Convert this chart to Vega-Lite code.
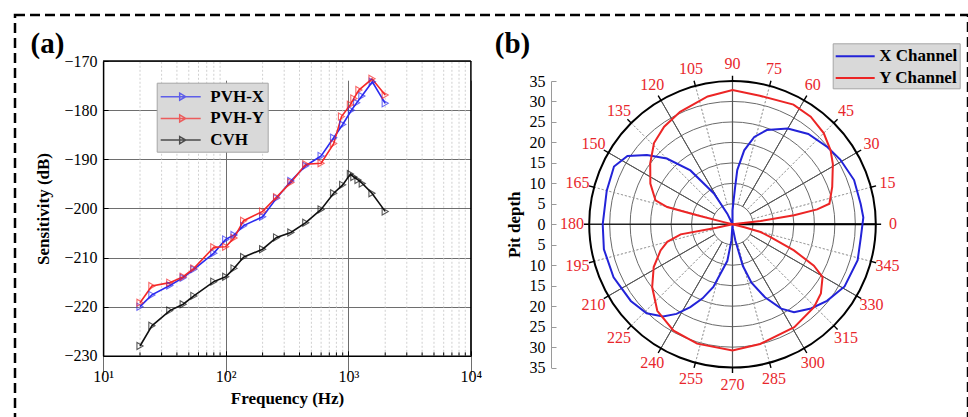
{
  "$schema": "https://vega.github.io/schema/vega-lite/v6.json",
  "width": 953,
  "height": 406,
  "autosize": {"type": "none"},
  "padding": {"left": 15, "top": 15, "right": 0, "bottom": -4},
  "background": "white",
  "config": {
    "view": {"stroke": "black", "strokeWidth": 2.5, "strokeDash": [10, 5]},
    "font": "Liberation Serif",
    "axis": {"labelFont": "Liberation Serif", "titleFont": "Liberation Serif", "labelColor": "black", "titleColor": "black", "titleFontWeight": "bold", "labelOverlap": false},
    "text": {"font": "Liberation Serif"}
  },
  "datasets": {
    "minorF": [
      {"f": 20}, {"f": 30}, {"f": 40}, {"f": 50}, {"f": 60}, {"f": 70}, {"f": 80}, {"f": 90},
      {"f": 200}, {"f": 300}, {"f": 400}, {"f": 500}, {"f": 600}, {"f": 700}, {"f": 800}, {"f": 900},
      {"f": 2000}, {"f": 3000}, {"f": 4000}, {"f": 5000}, {"f": 6000}, {"f": 7000}, {"f": 8000}, {"f": 9000}
    ],
    "sens": [
      {"series": "PVH-X", "f": 20, "s": -220.0}, {"series": "PVH-X", "f": 25, "s": -217.6}, {"series": "PVH-X", "f": 35, "s": -215.7},
      {"series": "PVH-X", "f": 45, "s": -214.1}, {"series": "PVH-X", "f": 55, "s": -212.4}, {"series": "PVH-X", "f": 80, "s": -209.1},
      {"series": "PVH-X", "f": 100, "s": -206.3}, {"series": "PVH-X", "f": 117, "s": -205.4}, {"series": "PVH-X", "f": 140, "s": -203.5},
      {"series": "PVH-X", "f": 200, "s": -201.7}, {"series": "PVH-X", "f": 260, "s": -197.9}, {"series": "PVH-X", "f": 340, "s": -194.4},
      {"series": "PVH-X", "f": 450, "s": -191.3}, {"series": "PVH-X", "f": 600, "s": -189.3}, {"series": "PVH-X", "f": 760, "s": -185.6},
      {"series": "PVH-X", "f": 900, "s": -182.9}, {"series": "PVH-X", "f": 1060, "s": -180.0}, {"series": "PVH-X", "f": 1170, "s": -178.5},
      {"series": "PVH-X", "f": 1290, "s": -177.1}, {"series": "PVH-X", "f": 1570, "s": -174.2}, {"series": "PVH-X", "f": 2000, "s": -178.6},
      {"series": "PVH-Y", "f": 20, "s": -219.2}, {"series": "PVH-Y", "f": 25, "s": -215.8}, {"series": "PVH-Y", "f": 35, "s": -215.1},
      {"series": "PVH-Y", "f": 45, "s": -213.9}, {"series": "PVH-Y", "f": 55, "s": -212.2}, {"series": "PVH-Y", "f": 80, "s": -207.9},
      {"series": "PVH-Y", "f": 100, "s": -207.8}, {"series": "PVH-Y", "f": 117, "s": -206.0}, {"series": "PVH-Y", "f": 140, "s": -202.5},
      {"series": "PVH-Y", "f": 200, "s": -200.6}, {"series": "PVH-Y", "f": 260, "s": -197.7}, {"series": "PVH-Y", "f": 340, "s": -194.7},
      {"series": "PVH-Y", "f": 450, "s": -191.0}, {"series": "PVH-Y", "f": 600, "s": -190.8}, {"series": "PVH-Y", "f": 760, "s": -186.8},
      {"series": "PVH-Y", "f": 880, "s": -181.3}, {"series": "PVH-Y", "f": 1040, "s": -178.9}, {"series": "PVH-Y", "f": 1110, "s": -177.6},
      {"series": "PVH-Y", "f": 1220, "s": -175.9}, {"series": "PVH-Y", "f": 1560, "s": -173.6}, {"series": "PVH-Y", "f": 2000, "s": -176.9},
      {"series": "CVH", "f": 20, "s": -228.0}, {"series": "CVH", "f": 25, "s": -223.9}, {"series": "CVH", "f": 35, "s": -220.8},
      {"series": "CVH", "f": 45, "s": -219.5}, {"series": "CVH", "f": 55, "s": -217.8}, {"series": "CVH", "f": 80, "s": -214.9},
      {"series": "CVH", "f": 100, "s": -213.9}, {"series": "CVH", "f": 117, "s": -212.2}, {"series": "CVH", "f": 140, "s": -209.9},
      {"series": "CVH", "f": 200, "s": -208.3}, {"series": "CVH", "f": 260, "s": -205.9}, {"series": "CVH", "f": 340, "s": -204.9},
      {"series": "CVH", "f": 450, "s": -202.9}, {"series": "CVH", "f": 600, "s": -200.2}, {"series": "CVH", "f": 760, "s": -196.9},
      {"series": "CVH", "f": 900, "s": -195.2}, {"series": "CVH", "f": 1040, "s": -193.0}, {"series": "CVH", "f": 1110, "s": -193.6},
      {"series": "CVH", "f": 1200, "s": -194.2}, {"series": "CVH", "f": 1300, "s": -194.9}, {"series": "CVH", "f": 1560, "s": -196.9},
      {"series": "CVH", "f": 2000, "s": -200.6}
    ],
    "rings": [{"r": 5}, {"r": 10}, {"r": 15}, {"r": 20}, {"r": 25}, {"r": 30}],
    "spokeMinor": [{"a": 15}, {"a": 45}, {"a": 75}, {"a": 105}, {"a": 135}, {"a": 165}, {"a": 195}, {"a": 225}, {"a": 255}, {"a": 285}, {"a": 315}, {"a": 345}],
    "spokeMajor": [{"a": 30}, {"a": 60}, {"a": 120}, {"a": 150}, {"a": 210}, {"a": 240}, {"a": 300}, {"a": 330}],
    "hAxis": [{"a": 0}, {"a": 180}],
    "vAxis": [{"a": 90}, {"a": 270}],
    "angles": [
      {"a": 0}, {"a": 15}, {"a": 30}, {"a": 45}, {"a": 60}, {"a": 75}, {"a": 90}, {"a": 105}, {"a": 120}, {"a": 135}, {"a": 150}, {"a": 165},
      {"a": 180}, {"a": 195}, {"a": 210}, {"a": 225}, {"a": 240}, {"a": 255}, {"a": 270}, {"a": 285}, {"a": 300}, {"a": 315}, {"a": 330}, {"a": 345}
    ],
    "pits": [
      {"ch": "X Channel", "i": 1, "ang": 90, "d": 0}, {"ch": "X Channel", "i": 2, "ang": 90, "d": 3.4}, {"ch": "X Channel", "i": 3, "ang": 86, "d": 9},
      {"ch": "X Channel", "i": 4, "ang": 85, "d": 13.3}, {"ch": "X Channel", "i": 5, "ang": 81, "d": 18.3}, {"ch": "X Channel", "i": 6, "ang": 76, "d": 22},
      {"ch": "X Channel", "i": 7, "ang": 70, "d": 24.5}, {"ch": "X Channel", "i": 8, "ang": 60, "d": 27}, {"ch": "X Channel", "i": 9, "ang": 50, "d": 28.8},
      {"ch": "X Channel", "i": 10, "ang": 39, "d": 29.9}, {"ch": "X Channel", "i": 11, "ang": 31, "d": 30.7}, {"ch": "X Channel", "i": 12, "ang": 20, "d": 31.6},
      {"ch": "X Channel", "i": 13, "ang": 9, "d": 31.7}, {"ch": "X Channel", "i": 14, "ang": 3, "d": 32}, {"ch": "X Channel", "i": 15, "ang": 354, "d": 31.5},
      {"ch": "X Channel", "i": 16, "ang": 344, "d": 31.8}, {"ch": "X Channel", "i": 17, "ang": 331, "d": 31.3}, {"ch": "X Channel", "i": 18, "ang": 321, "d": 29.7},
      {"ch": "X Channel", "i": 19, "ang": 313, "d": 28.1}, {"ch": "X Channel", "i": 20, "ang": 305, "d": 26.2}, {"ch": "X Channel", "i": 21, "ang": 300, "d": 23.8},
      {"ch": "X Channel", "i": 22, "ang": 294, "d": 19.5}, {"ch": "X Channel", "i": 23, "ang": 288, "d": 15}, {"ch": "X Channel", "i": 24, "ang": 284, "d": 10.5},
      {"ch": "X Channel", "i": 25, "ang": 280, "d": 4}, {"ch": "X Channel", "i": 26, "ang": 275, "d": 1}, {"ch": "X Channel", "i": 27, "ang": 270, "d": 0},
      {"ch": "X Channel", "i": 28, "ang": 266, "d": 4}, {"ch": "X Channel", "i": 29, "ang": 262, "d": 9}, {"ch": "X Channel", "i": 30, "ang": 253, "d": 16},
      {"ch": "X Channel", "i": 31, "ang": 248, "d": 19.5}, {"ch": "X Channel", "i": 32, "ang": 243, "d": 22.7}, {"ch": "X Channel", "i": 33, "ang": 238, "d": 25.8},
      {"ch": "X Channel", "i": 34, "ang": 233, "d": 28.2}, {"ch": "X Channel", "i": 35, "ang": 226, "d": 30.2}, {"ch": "X Channel", "i": 36, "ang": 217, "d": 31.1},
      {"ch": "X Channel", "i": 37, "ang": 204, "d": 31.8}, {"ch": "X Channel", "i": 38, "ang": 191, "d": 32}, {"ch": "X Channel", "i": 39, "ang": 180, "d": 31.7},
      {"ch": "X Channel", "i": 40, "ang": 165, "d": 31.8}, {"ch": "X Channel", "i": 41, "ang": 154, "d": 32.2}, {"ch": "X Channel", "i": 42, "ang": 147, "d": 30.6},
      {"ch": "X Channel", "i": 43, "ang": 141, "d": 26.9}, {"ch": "X Channel", "i": 44, "ang": 135, "d": 22.7}, {"ch": "X Channel", "i": 45, "ang": 128, "d": 16.7},
      {"ch": "X Channel", "i": 46, "ang": 121, "d": 8.8}, {"ch": "X Channel", "i": 47, "ang": 116, "d": 2.9}, {"ch": "X Channel", "i": 48, "ang": 110, "d": 0},
      {"ch": "Y Channel", "i": 1, "ang": 4, "d": 0}, {"ch": "Y Channel", "i": 2, "ang": 6.7, "d": 6.9}, {"ch": "Y Channel", "i": 3, "ang": 8.4, "d": 15.2},
      {"ch": "Y Channel", "i": 4, "ang": 10, "d": 21}, {"ch": "Y Channel", "i": 5, "ang": 12, "d": 24.2}, {"ch": "Y Channel", "i": 6, "ang": 20.5, "d": 26},
      {"ch": "Y Channel", "i": 7, "ang": 31, "d": 28.6}, {"ch": "Y Channel", "i": 8, "ang": 37, "d": 30}, {"ch": "Y Channel", "i": 9, "ang": 45, "d": 31.5},
      {"ch": "Y Channel", "i": 10, "ang": 54, "d": 32.5}, {"ch": "Y Channel", "i": 11, "ang": 63, "d": 32.8}, {"ch": "Y Channel", "i": 12, "ang": 78, "d": 32.1},
      {"ch": "Y Channel", "i": 13, "ang": 90, "d": 32.8}, {"ch": "Y Channel", "i": 14, "ang": 101, "d": 31.8}, {"ch": "Y Channel", "i": 15, "ang": 115, "d": 30.3},
      {"ch": "Y Channel", "i": 16, "ang": 125, "d": 29.1}, {"ch": "Y Channel", "i": 17, "ang": 134, "d": 27.6}, {"ch": "Y Channel", "i": 18, "ang": 143.5, "d": 25},
      {"ch": "Y Channel", "i": 19, "ang": 153.6, "d": 22.4}, {"ch": "Y Channel", "i": 20, "ang": 162.7, "d": 19.7}, {"ch": "Y Channel", "i": 21, "ang": 165.2, "d": 16.5},
      {"ch": "Y Channel", "i": 22, "ang": 165.7, "d": 8.9}, {"ch": "Y Channel", "i": 23, "ang": 166, "d": 2.2}, {"ch": "Y Channel", "i": 24, "ang": 170, "d": 0},
      {"ch": "Y Channel", "i": 25, "ang": 190, "d": 0}, {"ch": "Y Channel", "i": 26, "ang": 192, "d": 4}, {"ch": "Y Channel", "i": 27, "ang": 191, "d": 12.9},
      {"ch": "Y Channel", "i": 28, "ang": 195, "d": 16.5}, {"ch": "Y Channel", "i": 29, "ang": 200, "d": 18.7}, {"ch": "Y Channel", "i": 30, "ang": 208.5, "d": 21.9},
      {"ch": "Y Channel", "i": 31, "ang": 218, "d": 24.9}, {"ch": "Y Channel", "i": 32, "ang": 229, "d": 28}, {"ch": "Y Channel", "i": 33, "ang": 241, "d": 29.7},
      {"ch": "Y Channel", "i": 34, "ang": 253.5, "d": 30.4}, {"ch": "Y Channel", "i": 35, "ang": 270, "d": 30.8}, {"ch": "Y Channel", "i": 36, "ang": 283, "d": 30},
      {"ch": "Y Channel", "i": 37, "ang": 301, "d": 29.3}, {"ch": "Y Channel", "i": 38, "ang": 314.5, "d": 28.4}, {"ch": "Y Channel", "i": 39, "ang": 322, "d": 27.4},
      {"ch": "Y Channel", "i": 40, "ang": 329.6, "d": 25.5}, {"ch": "Y Channel", "i": 41, "ang": 333, "d": 22.3}, {"ch": "Y Channel", "i": 42, "ang": 337, "d": 16.3},
      {"ch": "Y Channel", "i": 43, "ang": 341.5, "d": 9.8}, {"ch": "Y Channel", "i": 44, "ang": 344.6, "d": 7.1}, {"ch": "Y Channel", "i": 45, "ang": 346, "d": 3},
      {"ch": "Y Channel", "i": 46, "ang": 350, "d": 0}
    ]
  },
  "resolve": {
    "scale": {"x": "independent", "y": "independent", "color": "independent"},
    "axis": {"x": "independent", "y": "independent"},
    "legend": {"color": "independent"}
  },
  "layer": [
    {
      "layer": [
        {
          "data": {"name": "minorF"},
          "mark": {"type": "rule", "stroke": "#c4c4c4", "strokeWidth": 0.8, "strokeDash": [2, 2]},
          "encoding": {
            "x": {"field": "f", "type": "quantitative",
                  "scale": {"type": "log", "domain": [10, 10000], "range": [88.1, 455.9], "nice": false}},
            "y": {"datum": -230, "type": "quantitative",
                  "scale": {"domain": [-230, -170], "range": [340.8, 46.1], "nice": false, "zero": false}},
            "y2": {"datum": -170}
          }
        },
        {
          "data": {"name": "minorF"},
          "mark": {"type": "rule", "stroke": "black", "strokeWidth": 1},
          "encoding": {
            "x": {"field": "f", "type": "quantitative"},
            "y": {"datum": -230, "type": "quantitative"},
            "y2": {"datum": -229.3}
          }
        },
        {
          "data": {"name": "sens"},
          "mark": {"type": "line", "strokeWidth": 1.6},
          "encoding": {
            "x": {"field": "f", "type": "quantitative",
                  "axis": {"orient": "bottom", "offset": -65.2, "values": [10, 100, 1000, 10000], "tickCount": 20,
                           "labelExpr": "'10' + ['⁰','¹','²','³','⁴'][round(log(datum.value) / LN10)]",
                           "title": "Frequency (Hz)", "grid": true, "gridColor": "#6e6e6e", "gridWidth": 1,
                           "domainColor": "black", "domainWidth": 1.5, "tickColor": "black", "tickSize": -5,
                           "labelFontSize": 16, "labelPadding": 18, "labelFlush": false, "labelOverlap": false,
                           "titleFontSize": 17, "titlePadding": 6}},
            "y": {"field": "s", "type": "quantitative",
                  "axis": {"orient": "left", "offset": -88.1, "values": [-230, -220, -210, -200, -190, -180, -170], "tickCount": 20,
                           "format": "d", "title": "Sensitivity (dB)", "grid": true, "gridColor": "#6e6e6e", "gridWidth": 1,
                           "domainColor": "black", "domainWidth": 1.5, "tickColor": "black", "tickSize": -5,
                           "labelFontSize": 16, "labelPadding": 11, "labelFlush": false, "labelOverlap": false,
                           "titleFontSize": 17, "titlePadding": 12}},
            "color": {"field": "series", "type": "nominal",
                      "scale": {"domain": ["PVH-X", "PVH-Y", "CVH"], "range": ["#2b2bf0", "#f52828", "#111111"]},
                      "legend": {"title": null, "orient": "none", "legendX": 141.7, "legendY": 67.7, "direction": "vertical",
                                 "symbolType": "M-1,0H3M0.9,-0.35L1.5,0L0.9,0.35Z", "symbolSize": 400,
                                 "symbolStrokeWidth": 1.5, "symbolFillColor": "transparent",
                                 "labelFont": "Liberation Serif", "labelFontWeight": "bold", "labelFontSize": 17,
                                 "labelColor": "black", "labelOffset": 28.6, "rowPadding": 2.7, "padding": 3,
                                 "fillColor": "#d9d9d9", "strokeColor": "#a6a6a6"}}
          }
        },
        {
          "data": {"name": "sens"},
          "mark": {"type": "point", "shape": "triangle-right", "filled": false, "size": 50, "strokeWidth": 1.1},
          "encoding": {
            "x": {"field": "f", "type": "quantitative"},
            "y": {"field": "s", "type": "quantitative"},
            "color": {"field": "series", "type": "nominal"}
          }
        },
        {
          "data": {"values": [{}]},
          "mark": {"type": "rule", "stroke": "black", "strokeWidth": 1.5},
          "encoding": {
            "x": {"datum": 10, "type": "quantitative"},
            "x2": {"datum": 10000},
            "y": {"datum": -170, "type": "quantitative"}
          }
        },
        {
          "data": {"values": [{}]},
          "mark": {"type": "rule", "stroke": "black", "strokeWidth": 1.5},
          "encoding": {
            "x": {"datum": 10000, "type": "quantitative"},
            "y": {"datum": -230, "type": "quantitative"},
            "y2": {"datum": -170}
          }
        },
        {
          "data": {"values": [{"t": "(a)"}]},
          "mark": {"type": "text", "fontWeight": "bold", "fontSize": 29, "align": "center", "baseline": "middle", "color": "black"},
          "encoding": {
            "text": {"field": "t"},
            "x": {"datum": 3.518, "type": "quantitative"},
            "y": {"datum": -166.58, "type": "quantitative"}
          }
        }
      ]
    },
    {
      "layer": [
        {
          "data": {"name": "rings"},
          "mark": {"type": "arc", "stroke": "#6a6a6a", "strokeWidth": 1, "fillOpacity": 0},
          "encoding": {
            "x": {"datum": 0, "type": "quantitative", "axis": null,
                  "scale": {"domain": [-35, 35], "range": [574.2, 860.8], "nice": false, "zero": false}},
            "y": {"datum": 0, "type": "quantitative",
                  "scale": {"domain": [-35, 35], "range": [352.6, 66.0], "nice": false, "zero": false}},
            "theta": {"datum": 0, "type": "quantitative",
                      "scale": {"type": "linear", "domain": [0, 360], "range": [1.5707963, -4.712389]}},
            "theta2": {"datum": 360},
            "radius": {"field": "r", "type": "quantitative", "stack": null,
                       "scale": {"type": "linear", "domain": [0, 35], "range": [0, 143.3], "zero": true}}
          }
        },
        {
          "data": {"name": "spokeMinor"},
          "mark": {"type": "arc", "stroke": "#9c9c9c", "strokeWidth": 0.8, "strokeDash": [2, 2], "fillOpacity": 0},
          "encoding": {
            "x": {"datum": 0, "type": "quantitative", "axis": null},
            "y": {"datum": 0, "type": "quantitative"},
            "theta": {"field": "a", "type": "quantitative", "stack": null},
            "theta2": {"field": "a"},
            "radius": {"datum": 35, "type": "quantitative"},
            "radius2": {"datum": 5}
          }
        },
        {
          "data": {"name": "spokeMajor"},
          "mark": {"type": "arc", "stroke": "#555555", "strokeWidth": 1, "fillOpacity": 0},
          "encoding": {
            "x": {"datum": 0, "type": "quantitative", "axis": null},
            "y": {"datum": 0, "type": "quantitative"},
            "theta": {"field": "a", "type": "quantitative", "stack": null},
            "theta2": {"field": "a"},
            "radius": {"datum": 35, "type": "quantitative"},
            "radius2": {"datum": 5}
          }
        },
        {
          "data": {"name": "vAxis"},
          "mark": {"type": "arc", "stroke": "#555555", "strokeWidth": 1.2, "fillOpacity": 0},
          "encoding": {
            "x": {"datum": 0, "type": "quantitative", "axis": null},
            "y": {"datum": 0, "type": "quantitative"},
            "theta": {"field": "a", "type": "quantitative", "stack": null},
            "theta2": {"field": "a"},
            "radius": {"datum": 35, "type": "quantitative"},
            "radius2": {"datum": 0}
          }
        },
        {
          "data": {"name": "hAxis"},
          "mark": {"type": "arc", "stroke": "#222222", "strokeWidth": 1.5, "fillOpacity": 0},
          "encoding": {
            "x": {"datum": 0, "type": "quantitative", "axis": null},
            "y": {"datum": 0, "type": "quantitative"},
            "theta": {"field": "a", "type": "quantitative", "stack": null},
            "theta2": {"field": "a"},
            "radius": {"datum": 35, "type": "quantitative"},
            "radius2": {"datum": 0}
          }
        },
        {
          "data": {"values": [{}]},
          "mark": {"type": "arc", "stroke": "black", "strokeWidth": 2, "fillOpacity": 0},
          "encoding": {
            "x": {"datum": 0, "type": "quantitative", "axis": null},
            "y": {"datum": 0, "type": "quantitative"},
            "theta": {"datum": 0, "type": "quantitative"},
            "theta2": {"datum": 360},
            "radius": {"datum": 35, "type": "quantitative"}
          }
        },
        {
          "data": {"name": "angles"},
          "mark": {"type": "arc", "stroke": "black", "strokeWidth": 1.4, "fillOpacity": 0},
          "encoding": {
            "x": {"datum": 0, "type": "quantitative", "axis": null},
            "y": {"datum": 0, "type": "quantitative"},
            "theta": {"field": "a", "type": "quantitative", "stack": null},
            "theta2": {"field": "a"},
            "radius": {"datum": 36.3, "type": "quantitative"},
            "radius2": {"datum": 35}
          }
        },
        {
          "data": {"name": "pits"},
          "transform": [
            {"calculate": "datum.d * cos(datum.ang * PI / 180)", "as": "px"},
            {"calculate": "datum.d * sin(datum.ang * PI / 180)", "as": "py"}
          ],
          "mark": {"type": "line", "strokeWidth": 2},
          "encoding": {
            "x": {"field": "px", "type": "quantitative", "axis": null},
            "y": {"field": "py", "type": "quantitative",
                  "axis": {"orient": "left", "offset": -536, "values": [-35, -30, -25, -20, -15, -10, -5, 0, 5, 10, 15, 20, 25, 30, 35],
                           "tickCount": 40, "labelExpr": "'' + abs(datum.value)", "title": "Pit depth", "grid": false,
                           "domainColor": "#9a9a9a", "tickColor": "#9a9a9a", "tickSize": -5,
                           "labelFontSize": 16, "labelPadding": 11, "labelFlush": false, "labelOverlap": false,
                           "titleFontSize": 17, "titlePadding": 6}},
            "order": {"field": "i", "type": "quantitative"},
            "color": {"field": "ch", "type": "nominal",
                      "scale": {"domain": ["X Channel", "Y Channel"], "range": ["#2323d8", "#ec2525"]},
                      "legend": {"title": null, "orient": "none", "legendX": 817.7, "legendY": 28.3, "direction": "vertical",
                                 "symbolType": "M-1,0H2.9", "symbolSize": 400, "symbolStrokeWidth": 2,
                                 "labelFont": "Liberation Serif", "labelFontWeight": "bold", "labelFontSize": 17,
                                 "labelColor": "black", "labelOffset": 22.6, "rowPadding": 2.7, "padding": 2,
                                 "fillColor": "#d9d9d9", "strokeColor": "#a6a6a6"}}
          }
        },
        {
          "data": {"name": "angles"},
          "mark": {"type": "text", "color": "#e8262b", "fontSize": 16, "align": "center", "baseline": "middle"},
          "encoding": {
            "x": {"datum": 0, "type": "quantitative", "axis": null},
            "y": {"datum": 0, "type": "quantitative"},
            "theta": {"field": "a", "type": "quantitative", "stack": null},
            "radius": {"datum": 39.2, "type": "quantitative"},
            "text": {"field": "a", "type": "quantitative", "format": "d"}
          }
        },
        {
          "data": {"values": [{"t": "(b)"}]},
          "mark": {"type": "text", "fontWeight": "bold", "fontSize": 29, "align": "center", "baseline": "middle", "color": "black"},
          "encoding": {
            "text": {"field": "t"},
            "x": {"datum": -53.72, "type": "quantitative", "axis": null},
            "y": {"datum": 44.0, "type": "quantitative"}
          }
        }
      ]
    }
  ]
}
